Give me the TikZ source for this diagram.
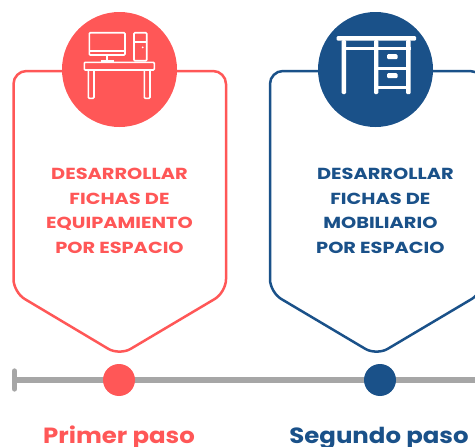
\documentclass[tikz,border=0pt]{standalone}
\usepackage{fontspec}
\setmainfont{Poppins}
\newfontfamily\cardfont[FakeStretch=1.21]{Poppins}
\newfontfamily\stepfont[FakeStretch=1.11]{Poppins}
\usepackage{tikz}
\usetikzlibrary{positioning,calc}
\definecolor{pasored}{HTML}{FF5757}
\definecolor{pasoblue}{HTML}{1A5189}
\definecolor{pasogray}{HTML}{A6A6A6}
\tikzset{
  card/.style={line width=2.5pt,rounded corners=13pt},
  disc/.style={circle,fill=#1,minimum size=115pt,inner sep=0pt},
  dot/.style={circle,fill=#1,minimum size=32pt,inner sep=0pt},
  cardtext/.style={text=#1,align=center,font=\cardfont\bfseries\fontsize{16}{24.6}\selectfont},
  steptext/.style={text=#1,font=\stepfont\bfseries\fontsize{22}{24}\selectfont},
  icon/.style={draw=white,line width=1.6pt,rounded corners=1pt},
  solidicon/.style={fill=white,rounded corners=1.2pt},
  axisline/.style={draw=pasogray,line width=6.5pt},
  axistick/.style={draw=pasogray,line width=5.3pt,line cap=round}
}
\begin{document}
\begin{tikzpicture}[x=1pt,y=-1pt]
\useasboundingbox (0,0) rectangle (475,447);
\clip (0,0) rectangle (475,447);

% first card
\draw[card,pasored] (13.5,71) -- (226,71) -- (226,292.3) -- (119.5,355.5) -- (13.5,292.3) -- cycle;
\node[disc=pasored] (disc1) at (119.5,69.5) {};
\node[cardtext=pasored] (text1) at (119.5,211) {DESARROLLAR\\FICHAS DE\\EQUIPAMIENTO\\POR ESPACIO};

% second card
\draw[card,pasoblue] (270,71) -- (483,71) -- (483,292.3) -- (376.5,355.5) -- (270,292.3) -- cycle;
\node[disc=pasoblue] (disc2) at (375.5,69.5) {};
\node[cardtext=pasoblue] (text2) at (380.4,211) {\hspace*{10pt}DESARROLLAR\\FICHAS DE\\MOBILIARIO\\POR ESPACIO};

% computer icon
\begin{scope}
\draw[icon] (89.3,32.7) rectangle (125,55);
\draw[icon] (89.3,50.7) -- (125,50.7);
\draw[icon] (106.7,55) -- (106.7,61);
\draw[icon] (100.7,61) -- (114,61);
\draw[icon] (134,32.7) rectangle (146.7,60.7);
\draw[icon] (134,41.7) -- (146.7,41.7);
\fill[white] (142.7,47.3) circle (1pt);
\draw[icon] (84.3,62.3) rectangle (154.3,70);
\draw[icon] (88.3,70) -- (88.3,98.3) -- (94,98.3) -- (94,70);
\draw[icon] (144.3,70) -- (144.3,98.3) -- (150,98.3) -- (150,70);
\end{scope}

% desk icon
\begin{scope}
\fill[solidicon] (336.7,36) rectangle (416,40.7);
\fill[solidicon] (341.7,40) rectangle (346,94);
\fill[solidicon] (374,40) rectangle (378.3,94);
\fill[solidicon] (406,40) rectangle (410.7,94);
\fill[white] (341.7,46.5) rectangle (410.7,50);
\fill[white] (376,66.7) rectangle (408,70);
\fill[white] (376,85.7) rectangle (408,89);
\fill[solidicon] (387,54.2) rectangle (397.6,59.2);
\fill[solidicon] (387,73.2) rectangle (397.6,78.2);
\end{scope}

% time line
\coordinate (linestart) at (14.5,380);
\coordinate (lineend) at (475,380);
\coordinate (tickup) at (14.5,371);
\coordinate (tickdown) at (14.5,389);
\draw[axisline] (linestart) -- (lineend);
\draw[axistick] (tickup) -- (tickdown);
\node[dot=pasored] (dot1) at (119,380) {};
\node[dot=pasoblue] (dot2) at (380,380) {};

\node[steptext=pasored,anchor=base] (step1) at (119,443) {Primer paso};
\node[steptext=pasoblue,anchor=base] (step2) at (379,443) {Segundo paso};
\end{tikzpicture}
\end{document}
